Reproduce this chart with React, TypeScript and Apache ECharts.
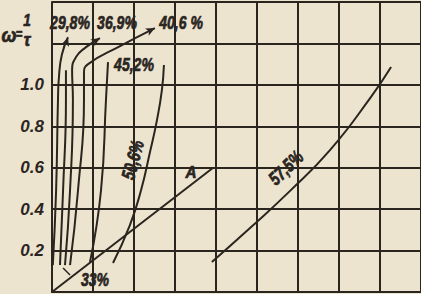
import React, { useEffect, useRef } from "react";
import * as echarts from "echarts";

// Curves: [x (grid cells), ω]
const curve298: [number, number][] = [[0.02, 0.13], [0.1, 0.49], [0.146, 0.93], [0.17, 1.04], [0.24, 1.145], [0.39, 1.23]];
const curve33: [number, number][] = [[0.195, 0.13], [0.27, 0.49], [0.34, 0.93], [0.34, 1.07]];
const curve369: [number, number][] = [[0.317, 0.13], [0.44, 0.49], [0.51, 0.93], [0.49, 1.07], [0.585, 1.134], [0.83, 1.182], [1.17, 1.226]];
const curve406: [number, number][] = [[0.44, 0.13], [0.634, 0.49], [0.78, 0.93], [0.78, 1.06], [0.88, 1.1], [1.66, 1.187], [2.51, 1.274]];
const curve452: [number, number][] = [[0.927, 0.145], [1.195, 0.49], [1.317, 0.93], [1.366, 1.11]];
const curve506: [number, number][] = [[1.488, 0.14], [1.9, 0.323], [2.17, 0.49], [2.39, 0.676], [2.56, 0.83], [2.68, 0.975], [2.73, 1.096]];
const curve575: [number, number][] = [[3.9, 0.145], [4.83, 0.309], [5.8, 0.487], [6.78, 0.685], [7.76, 0.936], [8.27, 1.086]];
const lineA: [number, number][] = [[0, 0], [3.93, 0.6]];
const leader33: [number, number][] = [[0.27, 0.116], [0.44, 0.082]];

const yTickLabels = ["0.2", "0.4", "0.6", "0.8", "1.0"];
const arrowRot = { c298: -18, c369: -57, c406: -63 };

const INK = "#2a251f";
const PAPER = "#ede4cf";
const FONT = "'Liberation Sans', Arial, sans-serif";

function withArrow(pts: [number, number][], rot: number) {
  return pts.map((p, i) =>
    i === pts.length - 1
      ? { value: p, symbol: "arrow", symbolSize: [6, 9], symbolRotate: rot, itemStyle: { color: INK } }
      : { value: p, symbol: "none" }
  );
}

function lineSeries(data: any[], smooth: boolean | number = true) {
  return {
    type: "line",
    data,
    smooth,
    symbol: "none",
    showSymbol: true,
    lineStyle: { color: INK, width: 2 },
    itemStyle: { color: INK },
    z: 5,
  };
}

function label(text: string, x: number, y: number, rotDeg = 0, size = 19, sx = 0.74) {
  return {
    type: "text",
    x,
    y,
    rotation: (rotDeg * Math.PI) / 180,
    scaleX: sx,
    z: 20,
    style: {
      text,
      fill: INK,
      stroke: INK,
      lineWidth: 0.7,
      fontSize: size,
      fontStyle: "italic",
      fontWeight: "bold",
      fontFamily: FONT,
      align: "center",
      verticalAlign: "middle",
      textAlign: "center",
      textVerticalAlign: "middle",
    },
  };
}

export default function App() {
  const ref = useRef<HTMLDivElement>(null);
  useEffect(() => {
    if (!ref.current) return;
    const chart = echarts.init(ref.current, undefined, { renderer: "svg" });
    chart.setOption({
      animation: false,
      backgroundColor: PAPER,
      grid: { left: 52, right: 0, top: 2, bottom: 2 },
      xAxis: {
        type: "value",
        min: 0,
        max: 9,
        interval: 1,
        axisLine: { show: true, lineStyle: { color: INK, width: 2 } },
        axisTick: { show: false },
        axisLabel: { show: false },
        splitLine: { show: true, lineStyle: { color: INK, width: 2 } },
      },
      yAxis: {
        type: "value",
        min: 0,
        max: 1.4,
        interval: 0.2,
        axisLine: { show: true, lineStyle: { color: INK, width: 2 } },
        axisTick: { show: false },
        axisLabel: {
          margin: 8,
          color: INK,
          fontSize: 17,
          fontStyle: "italic",
          fontWeight: "bold",
          fontFamily: FONT,
          formatter: (v: number) => {
            const s = v.toFixed(1);
            return yTickLabels.includes(s) ? s : "";
          },
        },
        splitLine: { show: true, lineStyle: { color: INK, width: 2 } },
      },
      series: [
        lineSeries(withArrow(curve298, arrowRot.c298)),
        lineSeries(curve33.map((p) => ({ value: p }))),
        lineSeries(withArrow(curve369, arrowRot.c369)),
        lineSeries(withArrow(curve406, arrowRot.c406)),
        lineSeries(curve452.map((p) => ({ value: p }))),
        lineSeries(curve506.map((p) => ({ value: p }))),
        lineSeries(curve575.map((p) => ({ value: p }))),
        lineSeries(lineA.map((p) => ({ value: p })), false),
        { ...lineSeries(leader33.map((p) => ({ value: p })), false), lineStyle: { color: INK, width: 1.5 } },
      ],
      graphic: [
        label("29,8%", 70, 23),
        label("36,9%", 117, 23),
        label("40,6 %", 181, 23),
        label("45,2%", 134, 65),
        label("33%", 95, 280),
        label("A", 191, 172, 0, 17, 0.9),
        label("57,5%", 286, 168, 44),
        label("50,6%", 133, 160, 75),
        label("ω", 9, 35, 0, 20, 0.9),
        label("=", 19, 35, 0, 14, 0.8),
        label("1", 27, 20, 0, 17, 0.8),
        label("τ", 27, 40, 0, 18, 0.9),
      ],
    });
    return () => chart.dispose();
  }, []);
  return (
    <div
      ref={ref}
      style={{ position: "fixed", left: 0, top: 0, width: 421, height: 294 }}
    />
  );
}
